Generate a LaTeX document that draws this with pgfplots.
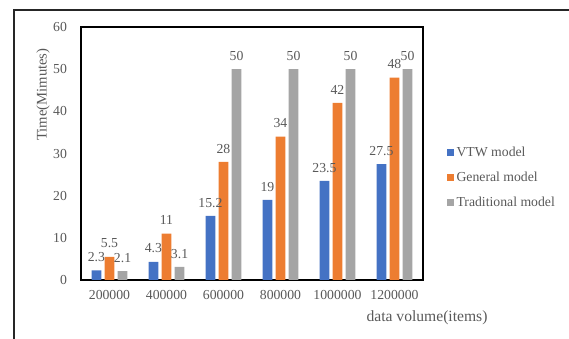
\documentclass[border=0pt]{standalone}
\usepackage{pgfplots}
\pgfplotsset{compat=1.18}
\usepackage{fontspec}
\setmainfont{Liberation Serif}

\definecolor{vtw}{HTML}{4472C4}
\definecolor{general}{HTML}{ED7D31}
\definecolor{traditional}{HTML}{A5A5A5}
\definecolor{txt}{HTML}{595959}

\newcommand{\lbl}{\fontsize{10.3}{12}\selectfont}
\newcommand{\ylbl}{\fontsize{11}{13}\selectfont}
\newcommand{\xlbl}{\fontsize{11.7}{14}\selectfont}

\begin{document}
\begin{tikzpicture}
\useasboundingbox (-60.75pt,-44.25pt) rectangle (366pt,210pt);
% outer frame
\draw[line width=0.9pt, black!85] (-50.25pt,-50pt) -- (-50.25pt,202.5pt) -- (380pt,202.5pt);
\begin{axis}[
  at={(0,0)}, anchor=south west,
  scale only axis,
  width=256.5pt, height=189.75pt,
  ybar=2.5pt, bar width=7.3pt,
  xmin=-0.5, xmax=5.5,
  ymin=0, ymax=60,
  ytick={0,10,...,60},
  xtick={0,1,2,3,4,5},
  xticklabels={200000,400000,600000,800000,1000000,1200000},
  major tick length=0pt,
  axis line style={black, line width=1pt},
  tick label style={font=\lbl, text=txt},
  /pgf/number format/assume math mode=true,
  xticklabel style={yshift=-4pt},
  yticklabel style={xshift=-7pt},
  nodes near coords,
  every node near coord/.append style={font=\lbl, text=txt, yshift=3pt},
  legend style={draw=none, fill=none, font=\lbl, text=txt,
    at={(1.07,0.405)}, anchor=west,
    row sep=6pt, inner sep=0pt,
    /tikz/every even column/.append style={column sep=0pt}},
  legend cell align=left,
  legend image code/.code={\fill[#1, draw=none] (0pt,-2.5pt) rectangle (5pt,2.5pt);},
]
\addplot[fill=vtw, draw=none] coordinates {(0,2.3) (1,4.3) (2,15.2) (3,19) (4,23.5) (5,27.5)};
\addplot[fill=general, draw=none] coordinates {(0,5.5) (1,11) (2,28) (3,34) (4,42) (5,48)};
\addplot[fill=traditional, draw=none] coordinates {(0,2.1) (1,3.1) (2,50) (3,50) (4,50) (5,50)};
\legend{VTW model, General model, Traditional model}
\end{axis}
\node[rotate=90, font=\ylbl, text=txt] at (-28.5pt,139pt) {Time(Mimutes)};
\node[font=\xlbl, text=txt] at (259.5pt,-28.5pt) {data volume(items)};
\end{tikzpicture}
\end{document}
